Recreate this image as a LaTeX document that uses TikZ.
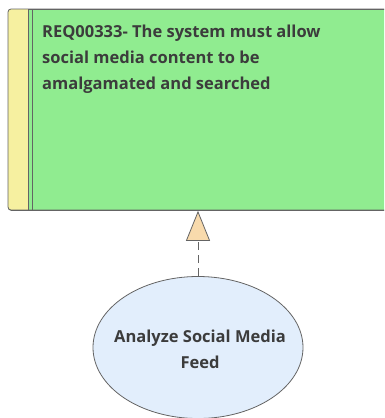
\documentclass[tikz,border=0pt]{standalone}
\usepackage{fontspec}
\setmainfont{Open Sans}
\usepackage{xcolor}
\usetikzlibrary{arrows.meta,positioning,shapes.geometric}

\definecolor{reqgreen}{RGB}{144,236,144}
\definecolor{reqstrip}{RGB}{246,240,160}
\definecolor{ucblue}{RGB}{226,238,252}
\definecolor{tipfill}{RGB}{248,218,172}
\definecolor{edge}{RGB}{100,100,100}
\definecolor{ink}{RGB}{60,60,60}

\begin{document}
\begin{tikzpicture}[
  x=1pt, y=-1pt,
  font=\bfseries\fontsize{16.5}{26}\selectfont,
  reqbox/.style={rectangle, rounded corners=3pt, draw=edge, thick, fill=reqgreen,
                 minimum width=400pt, minimum height=201pt, anchor=north west, inner sep=0pt},
  usecase/.style={ellipse, draw=edge, thick, fill=ucblue,
                  minimum width=210pt, minimum height=142pt, inner sep=0pt},
  realize/.style={edge, thick, dash pattern=on 8pt off 5pt,
                  -{Triangle[width=24pt,length=30pt,fill=tipfill]}},
]
\clip (0,0) rectangle (384,418);

% Requirement element
\node[reqbox] (req) at (8,9) {};
\begin{scope}
  \clip[rounded corners=3pt] (8,9) rectangle (408,210);
  \fill[reqstrip] (8,9) rectangle (28.5,210);
\end{scope}
\draw[edge, thick, rounded corners=3pt] (8,9) rectangle (408,210);
\draw[edge, thick] (28.5,9) -- (28.5,210);
\draw[edge, thick] (32.5,9) -- (32.5,210);
\node[anchor=north west, align=left, text=ink, inner sep=0pt] (reqtxt) at (42,25)
  {REQ00333- The system must allow\\social media content to be\\amalgamated and searched};

% Use case
\node[usecase] (uc) at (198,347.5) {};
\node[align=center, text=ink, inner sep=0pt] (uctxt) at (200,349) {Analyze Social Media\\Feed};

% Realization
\draw[realize] (uc) -- (uc |- req.south);

\end{tikzpicture}
\end{document}
